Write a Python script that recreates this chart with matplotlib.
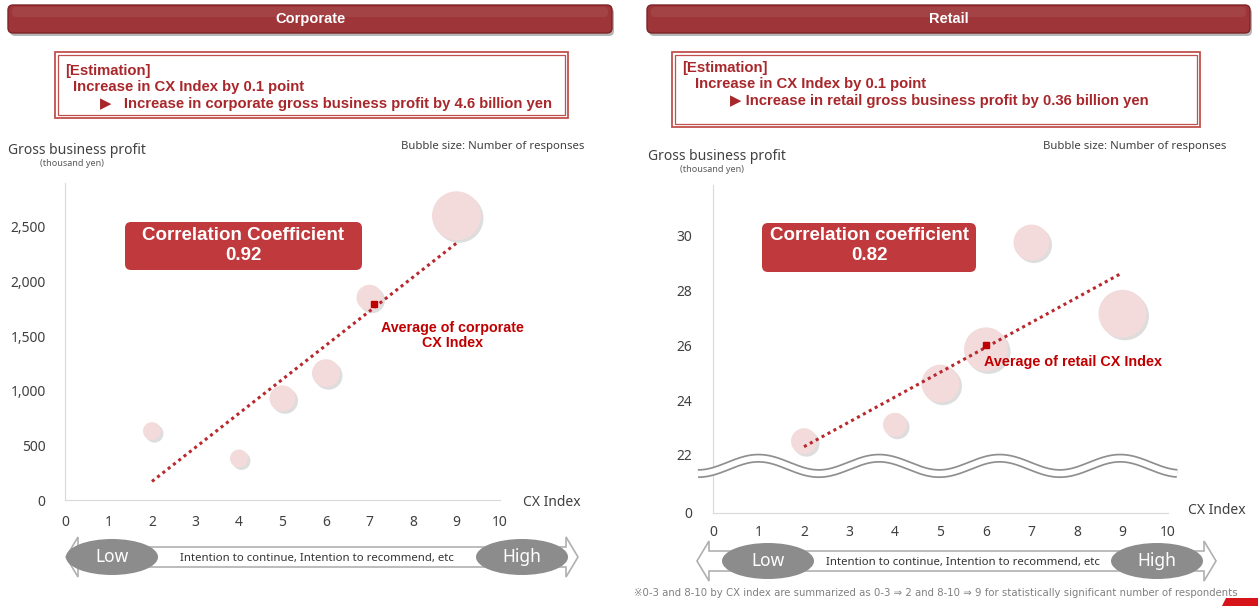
import numpy as np
import matplotlib.pyplot as plt
from matplotlib.patches import FancyBboxPatch, Rectangle, Ellipse, Polygon
from matplotlib.transforms import offset_copy

plt.rcParams['font.family'] = ['Noto Sans', 'DejaVu Sans']
BOLD = ['Liberation Sans', 'DejaVu Sans']

W, H = 1258, 606

# data
cx_index = [2, 4, 5, 6, 7, 9]
corp_profit = [630, 380, 930, 1160, 1850, 2600]       # thousand yen
corp_responses = [81, 81, 169, 196, 169, 600]          # relative bubble size
retail_profit = [22.5, 23.1, 24.6, 25.85, 29.75, 27.15]
retail_responses = [169, 144, 361, 484, 324, 576]

corp_trend_x = [2, 9]
corp_trend_y = [170, 2350]
retail_trend_x = [2, 9]
retail_trend_y = [22.3, 28.65]
corp_avg = (7.1, 1790)
retail_avg = (6.0, 26.0)

x_ticks = list(range(0, 11))
corp_yticks = [0, 500, 1000, 1500, 2000, 2500]
corp_ylabels = ['0', '500', '1,000', '1,500', '2,000', '2,500']
retail_floor = 19.88          # broken axis: this position is labelled 0
retail_yticks = [retail_floor, 22, 24, 26, 28, 30]
retail_ylabels = ['0', '22', '24', '26', '28', '30']

RED_TXT = '#a8272b'
BOX_RED = '#c0393d'
BUBBLE = '#f3dadb'
GRAY_TXT = '#404040'


def frac(x0, y0, x1, y1):
    return [x0 / W, 1 - y1 / H, (x1 - x0) / W, (y1 - y0) / H]


fig = plt.figure(figsize=(W / 100, H / 100), dpi=100)


def scatter_panel(box, profit, responses, tx, ty, avg, ylim, yticks, ylabels, xpad, ypad):
    ax = fig.add_axes(frac(*box))
    ax.patch.set_alpha(0)
    s = np.array(responses) * 2.07
    shadow = offset_copy(ax.transData, fig=fig, x=1.8, y=-1.8, units='points')
    ax.scatter(cx_index, profit, s=s, color='#a0a0a0', alpha=0.35,
               transform=shadow, linewidths=0, zorder=2, clip_on=False)
    ax.scatter(cx_index, profit, s=s, color=BUBBLE, linewidths=0,
               zorder=3, clip_on=False)
    ax.plot(tx, ty, ls=(0, (1, 1.2)), lw=2.2, color='#b8282d', zorder=4)
    ax.plot([avg[0]], [avg[1]], marker='s', ms=5, color='#c00000', zorder=5)
    ax.set_xlim(0, 10)
    ax.set_ylim(*ylim)
    ax.set_xticks(x_ticks)
    ax.set_yticks(yticks)
    ax.set_yticklabels(ylabels)
    ax.tick_params(length=0, labelsize=10, labelcolor=GRAY_TXT)
    ax.tick_params(axis='x', pad=xpad)
    ax.tick_params(axis='y', pad=ypad)
    for side in ['top', 'right']:
        ax.spines[side].set_visible(False)
    for side in ['left', 'bottom']:
        ax.spines[side].set_color('#d9d9d9')
    return ax


ax1 = scatter_panel((65, 183, 500, 500), corp_profit, corp_responses,
                    corp_trend_x, corp_trend_y, corp_avg, (0, 2900),
                    corp_yticks, corp_ylabels, 11, 14)
ax1.text(corp_avg[0] + 1.8, corp_avg[1] - 150, 'Average of corporate\nCX Index',
         color='#c00000', fontsize=10.3, fontweight='bold', family=BOLD,
         ha='center', va='top', linespacing=1.1)

ax2 = scatter_panel((713, 185, 1168, 513), retail_profit, retail_responses,
                    retail_trend_x, retail_trend_y, retail_avg, (retail_floor, 31.85),
                    retail_yticks, retail_ylabels, 9, 15)
ax2.text(retail_avg[0] - 0.05, retail_avg[1] - 0.62, 'Average of retail CX Index',
         color='#c00000', fontsize=10.4, fontweight='bold', family=BOLD,
         ha='left', va='center')
# axis break wave
wx = np.linspace(-0.33, 10.2, 300)
wy = 21.6 + 0.28 * np.cos(2 * np.pi * (wx - 1) / 2.65)
ax2.plot(wx, wy, color='#8f8f8f', lw=6.5, solid_capstyle='butt', zorder=6, clip_on=False)
ax2.plot(wx, wy, color='white', lw=4, solid_capstyle='butt', zorder=7, clip_on=False)

# overlay for the slide decorations, in pixel units
deco = fig.add_axes([0, 0, 1, 1])
deco.set_xlim(0, W)
deco.set_ylim(H, 0)
deco.axis('off')
deco.patch.set_alpha(0)


def title_bar(x0, x1, label):
    deco.add_patch(FancyBboxPatch((x0 + 2, 8), x1 - x0, 28, boxstyle='round,pad=0,rounding_size=5',
                                  fc='#6f6f6f', ec='none', alpha=0.5))
    deco.add_patch(FancyBboxPatch((x0, 5), x1 - x0, 28, boxstyle='round,pad=0,rounding_size=5',
                                  fc='#9e3538', ec='#7d2427', lw=1))
    deco.add_patch(FancyBboxPatch((x0 + 4, 7), x1 - x0 - 8, 10, boxstyle='round,pad=0,rounding_size=4',
                                  fc='white', ec='none', alpha=0.07))
    deco.text((x0 + x1) / 2, 19, label, color='white', fontsize=10.5, fontweight='bold',
              family=BOLD, ha='center', va='center')


def estimation_box(x0, y0, x1, y1, lines, ys, xs):
    deco.add_patch(Rectangle((x0, y0), x1 - x0, y1 - y0, fc='white', ec='#c0504d', lw=1.3))
    deco.add_patch(Rectangle((x0 + 3, y0 + 3), x1 - x0 - 6, y1 - y0 - 6, fc='none', ec='#c0504d', lw=0.9))
    for txt, y, x in zip(lines, ys, xs):
        deco.text(x, y, txt, color=RED_TXT, fontsize=10.7, fontweight='bold', family=BOLD,
                  ha='left', va='center')


def corr_box(x0, y0, x1, y1, line1, line2):
    deco.add_patch(FancyBboxPatch((x0, y0), x1 - x0, y1 - y0, boxstyle='round,pad=0,rounding_size=6',
                                  fc=BOX_RED, ec='none'))
    xm = (x0 + x1) / 2
    deco.text(xm, y0 + 13, line1, color='white', fontsize=13.5, fontweight='bold', family=BOLD,
              ha='center', va='center')
    deco.text(xm, y0 + 33, line2, color='white', fontsize=13.5, fontweight='bold', family=BOLD,
              ha='center', va='center')


def range_arrow(x0, x1, yc, low_x, high_x):
    hh, sh, hl = 20, 10, 12
    pts = [(x0, yc), (x0 + hl, yc - hh), (x0 + hl, yc - sh), (x1 - hl, yc - sh), (x1 - hl, yc - hh),
           (x1, yc), (x1 - hl, yc + hh), (x1 - hl, yc + sh), (x0 + hl, yc + sh), (x0 + hl, yc + hh)]
    deco.add_patch(Polygon(pts, closed=True, fc='white', ec='#b0b0b0', lw=1.2))
    for xc, label in [(low_x, 'Low'), (high_x, 'High')]:
        deco.add_patch(Ellipse((xc, yc), 92, 36, fc='#8c8c8c', ec='none'))
        deco.text(xc, yc, label, color='white', fontsize=12.5, ha='center', va='center')
    deco.text((low_x + high_x) / 2, yc + 1, 'Intention to continue, Intention to recommend, etc',
              color='#333333', fontsize=8.2, ha='center', va='center')


title_bar(8, 612, 'Corporate')
title_bar(647, 1250, 'Retail')

estimation_box(55, 52, 568, 118,
               ['[Estimation]', 'Increase in CX Index by 0.1 point',
                '\u25b6   Increase in corporate gross business profit by 4.6 billion yen'],
               [71, 87, 104], [65, 73, 100])
estimation_box(672, 52, 1200, 127,
               ['[Estimation]', 'Increase in CX Index by 0.1 point',
                '\u25b6 Increase in retail gross business profit by 0.36 billion yen'],
               [68, 84, 101], [682, 695, 730])

for x, y, yy in [(8, 150, 164), (648, 156, 170)]:
    deco.text(x, y, 'Gross business profit', color=GRAY_TXT, fontsize=10, ha='left', va='center')
    deco.text(x + 32, yy, '(thousand yen)', color='#595959', fontsize=6.5, ha='left', va='center')
deco.text(584, 146, 'Bubble size: Number of responses', color=GRAY_TXT, fontsize=8.2, ha='right', va='center')
deco.text(1226, 147, 'Bubble size: Number of responses', color=GRAY_TXT, fontsize=8.2, ha='right', va='center')

deco.text(523, 503, 'CX Index', color=GRAY_TXT, fontsize=10, ha='left', va='center')
deco.text(1188, 510, 'CX Index', color=GRAY_TXT, fontsize=10, ha='left', va='center')

corr_box(125, 222, 362, 270, 'Correlation Coefficient', '0.92')
corr_box(762, 223, 976, 272, 'Correlation coefficient', '0.82')

range_arrow(66, 578, 557, 112, 522)
range_arrow(697, 1216, 561, 768, 1157)

deco.text(1238, 593, '\u203b0-3 and 8-10 by CX index are summarized as 0-3 \u21d2 2 and 8-10 \u21d2 9 '
          'for statistically significant number of respondents',
          color='#808080', fontsize=7.3, ha='right', va='center', family=['DejaVu Sans'])
deco.add_patch(Polygon([(1222, 606), (1226, 598), (1258, 598), (1258, 606)], fc='#d7141a', ec='none'))

fig.savefig('out.png', dpi=100)
